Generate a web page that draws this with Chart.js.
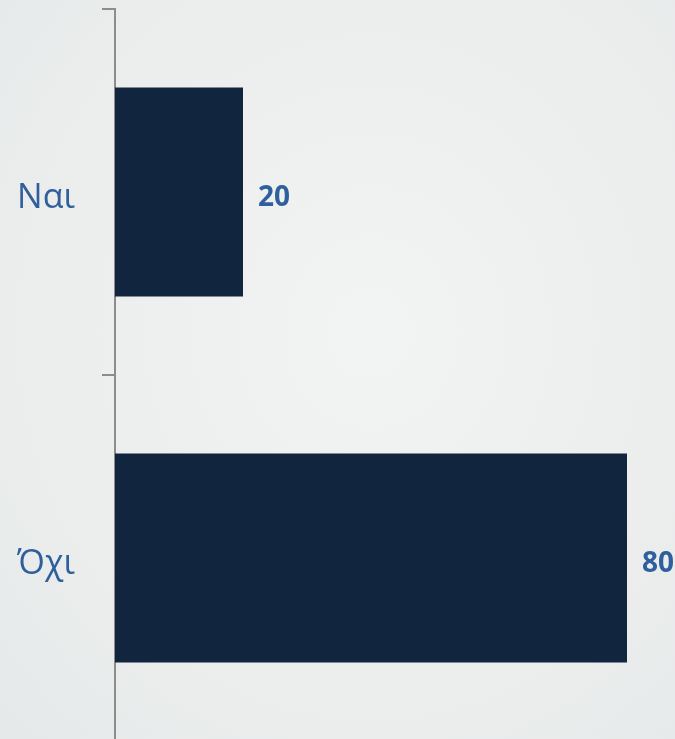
<!DOCTYPE html>
<html>
<head>
<meta charset="utf-8">
<script src="https://cdn.jsdelivr.net/npm/chart.js@4/dist/chart.umd.min.js"></script>
<style>
  html, body { margin: 0; padding: 0; overflow: hidden; }
  body {
    width: 675px; height: 739px;
    background: radial-gradient(ellipse at 55% 45%, #f2f3f3 0%, #eceeee 60%, #e6e9e9 100%);
  }
  #wrap { position: relative; width: 675px; height: 741px; }
</style>
</head>
<body>
<div id="wrap"><canvas id="chart"></canvas></div>
<script>
// ── Data ───────────────────────────────────────────────────
const categories = ['Ναι', 'Όχι'];
const values = [20, 80];

const BAR = '#12253f';
const LABEL = '#2f5f9c';
const AXIS = '#8c8c8c';

// value labels at the end of each bar
const valueLabels = {
  id: 'valueLabels',
  afterDatasetsDraw(chart) {
    const { ctx } = chart;
    const meta = chart.getDatasetMeta(0);
    ctx.save();
    ctx.font = "bold 28px 'Open Sans'";
    ctx.fillStyle = LABEL;
    ctx.textAlign = 'left';
    ctx.textBaseline = 'middle';
    meta.data.forEach((bar, i) => {
      ctx.fillText(String(values[i]), bar.x + 15, bar.y + 6);
    });
    ctx.restore();
  }
};

new Chart(document.getElementById('chart'), {
  type: 'bar',
  data: {
    labels: categories,
    datasets: [{
      data: values,
      backgroundColor: BAR,
      borderWidth: 0,
      barPercentage: 0.571,
      categoryPercentage: 1,
    }],
  },
  options: {
    indexAxis: 'y',
    responsive: true,
    maintainAspectRatio: false,
    animation: false,
    layout: { padding: { top: 9, right: 0, bottom: 0, left: 0 } },
    plugins: { legend: { display: false }, tooltip: { enabled: false } },
    scales: {
      x: { display: false, min: 0, max: 87.5 },
      y: {
        afterFit(scale) {
          scale.width = 115;
          scale.paddingTop = 0;
          scale.paddingBottom = 0;
        },
        border: { color: AXIS, width: 2 },
        grid: { drawOnChartArea: false, drawTicks: true, tickLength: 13, color: AXIS, lineWidth: 2 },
        ticks: {
          color: LABEL,
          font: { family: "'Open Sans'", size: 34 },
          padding: 27,
          labelOffset: 6,
        },
      },
    },
  },
  plugins: [valueLabels],
});
</script>
</body>
</html>
